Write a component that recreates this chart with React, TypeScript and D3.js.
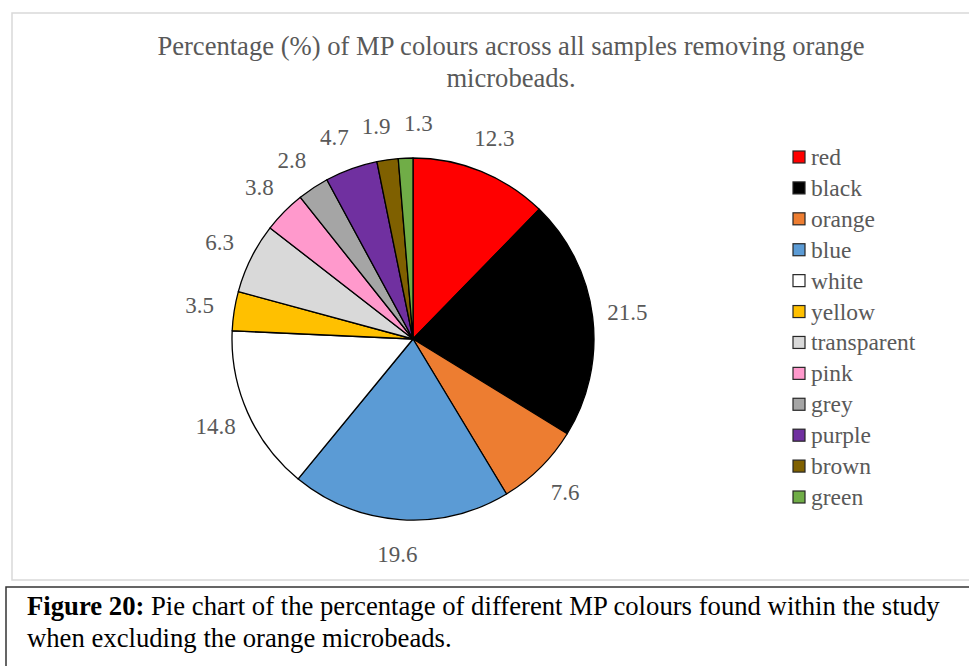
import * as d3 from "d3";

const categories = ["red", "black", "orange", "blue", "white", "yellow", "transparent", "pink", "grey", "purple", "brown", "green"];
const values = [12.3, 21.5, 7.6, 19.6, 14.8, 3.5, 6.3, 3.8, 2.8, 4.7, 1.9, 1.3];
const sliceColours = ["#ff0000", "#000000", "#ed7d31", "#5b9bd5", "#ffffff", "#ffc000", "#d9d9d9", "#ff99cc", "#a5a5a5", "#7030a0", "#7f6000", "#70ad47"];
const titleLines = ["Percentage (%) of MP colours across all samples removing orange", "microbeads."];
const captionBold = "Figure 20:";
const captionLines = [" Pie chart of the percentage of different MP colours found within the study", "when excluding the orange microbeads."];

interface Slice {
  name: string;
  value: number;
  colour: string;
}

const data: Slice[] = categories.map((name, i) => ({ name, value: values[i], colour: sliceColours[i] }));

const App = () => {
  const width = 969;
  const height = 666;
  const cx = 413;
  const cy = 339;
  const radius = 181;
  const labelRadius = 216;
  const labelSize = 23;
  const serif = "'Liberation Serif', 'Times New Roman', serif";
  const grey = "#595959";

  const pie = d3.pie<Slice>().value((d) => d.value).sort(null);
  const arcs = pie(data);
  const arc = d3.arc<d3.PieArcDatum<Slice>>().innerRadius(0).outerRadius(radius);

  // data labels: start at the slice middle, then nudge crowded ones apart
  const labels = arcs.map((a) => {
    const text = a.data.value.toFixed(1);
    const w = text.split("").reduce((s, c) => s + (c === "." ? 0.25 : 0.5), 0) * labelSize;
    return { text, w, angle: (a.startAngle + a.endAngle) / 2 };
  });
  const pos = (ang: number) => [Math.sin(ang) * labelRadius, -Math.cos(ang) * labelRadius];
  for (let iter = 0; iter < 400; iter++) {
    for (let i = 0; i < labels.length; i++) {
      const a = labels[i];
      const b = labels[(i + 1) % labels.length];
      const [ax, ay] = pos(a.angle);
      const [bx, by] = pos(b.angle);
      if (Math.abs(ax - bx) < (a.w + b.w) / 2 + 13 && Math.abs(ay - by) < labelSize * 0.95) {
        a.angle -= 0.003;
        b.angle += 0.003;
      }
    }
  }

  // legend rows
  const legendY = d3.scalePoint<string>().domain(categories).range([157, 497]);

  return (
    <svg width={width} height={height} style={{ position: "absolute", left: 0, top: 0, background: "#fff" }}>
      {/* chart frame */}
      <rect x={12} y={13} width={width + 10} height={567} fill="#fff" stroke="#d9d9d9" strokeWidth={1.5} />

      {titleLines.map((t, i) => (
        <text key={t} x={511} y={55 + i * 32} textAnchor="middle" fontFamily={serif} fontSize={26.6} fill={grey}>
          {t}
        </text>
      ))}

      <g transform={`translate(${cx},${cy})`}>
        {arcs.map((a) => (
          <path key={a.data.name} d={arc(a) ?? ""} fill={a.data.colour} stroke="#000" strokeWidth={1.3} strokeLinejoin="round" />
        ))}
        {labels.map((l, i) => {
          const [lx, ly] = pos(l.angle);
          return (
            <text key={"l" + i} x={lx} y={ly} textAnchor="middle" dominantBaseline="central" fontFamily={serif} fontSize={labelSize} fill={grey}>
              {l.text}
            </text>
          );
        })}
      </g>

      {data.map((d) => (
        <g key={"lg" + d.name} transform={`translate(793,${legendY(d.name)})`}>
          <rect x={0} y={-6} width={12} height={12} fill={d.colour} stroke="#262626" strokeWidth={1.2} />
          <text x={18} y={0} dominantBaseline="central" fontFamily={serif} fontSize={23.5} fill={grey}>
            {d.name}
          </text>
        </g>
      ))}

      {/* caption box */}
      <rect x={6} y={587} width={width + 10} height={100} fill="#fff" stroke="#333" strokeWidth={1.5} />
      <text x={27} y={615} fontFamily={serif} fontSize={26.7} fill="#000">
        <tspan fontWeight="bold">{captionBold}</tspan>
        <tspan>{captionLines[0]}</tspan>
      </text>
      <text x={27} y={647} fontFamily={serif} fontSize={26.7} fill="#000">
        {captionLines[1]}
      </text>
    </svg>
  );
};

export default App;
